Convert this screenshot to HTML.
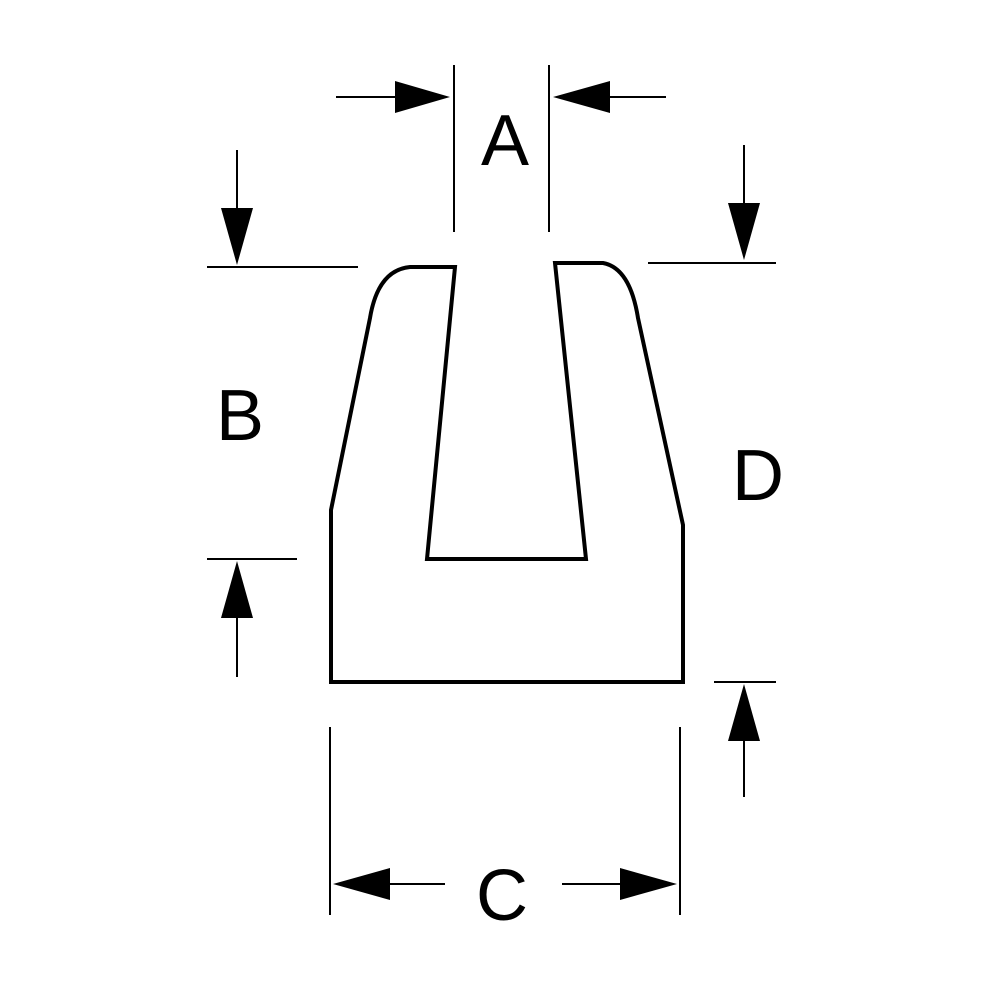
<!DOCTYPE html>
<html><head><meta charset="utf-8"><style>
html,body{margin:0;padding:0;background:#fff;}
svg{display:block;}
text{font-family:"Liberation Sans",Arial,sans-serif;fill:#000;}
</style></head><body>
<svg width="1000" height="1000" viewBox="0 0 1000 1000" xmlns="http://www.w3.org/2000/svg">
<rect width="1000" height="1000" fill="#fff"/>
<!-- profile -->
<path d="M331,682 L331,510 L370,318 Q378,270 410,267 L455,267 L427,559 L586,559 L555,263 L603,263 Q630,268 638,318 L683,525 L683,682 Z" fill="none" stroke="#000" stroke-width="4" stroke-linejoin="miter"/>
<g stroke="#000" stroke-width="2" fill="none">
<!-- A -->
<line x1="454" y1="65" x2="454" y2="232"/>
<line x1="549" y1="65" x2="549" y2="232"/>
<line x1="336" y1="97" x2="400" y2="97"/>
<line x1="605" y1="97" x2="666" y2="97"/>
<!-- B -->
<line x1="207" y1="267" x2="358" y2="267"/>
<line x1="237" y1="150" x2="237" y2="215"/>
<line x1="207" y1="559" x2="297" y2="559"/>
<line x1="237" y1="610" x2="237" y2="677"/>
<!-- D -->
<line x1="648" y1="263" x2="776" y2="263"/>
<line x1="744" y1="145" x2="744" y2="210"/>
<line x1="714" y1="682" x2="776" y2="682"/>
<line x1="744" y1="735" x2="744" y2="797"/>
<!-- C -->
<line x1="330" y1="727" x2="330" y2="915"/>
<line x1="680" y1="727" x2="680" y2="915"/>
<line x1="385" y1="884" x2="445" y2="884"/>
<line x1="562" y1="884" x2="625" y2="884"/>
</g>
<g fill="#000">
<polygon points="450,97 395,81 395,113"/>
<polygon points="553,97 610,81 610,113"/>
<polygon points="237,265 221,208 253,208"/>
<polygon points="237,561 221,618 253,618"/>
<polygon points="744,260 728,203 760,203"/>
<polygon points="744,684 728,741 760,741"/>
<polygon points="333,884 390,868 390,900"/>
<polygon points="677,884 620,868 620,900"/>
</g>
<text x="505" y="165" font-size="72" text-anchor="middle">A</text>
<text x="240" y="440" font-size="72" text-anchor="middle">B</text>
<text x="758" y="500" font-size="72" text-anchor="middle">D</text>
<text x="502" y="920" font-size="72" text-anchor="middle">C</text>
</svg>
</body></html>
